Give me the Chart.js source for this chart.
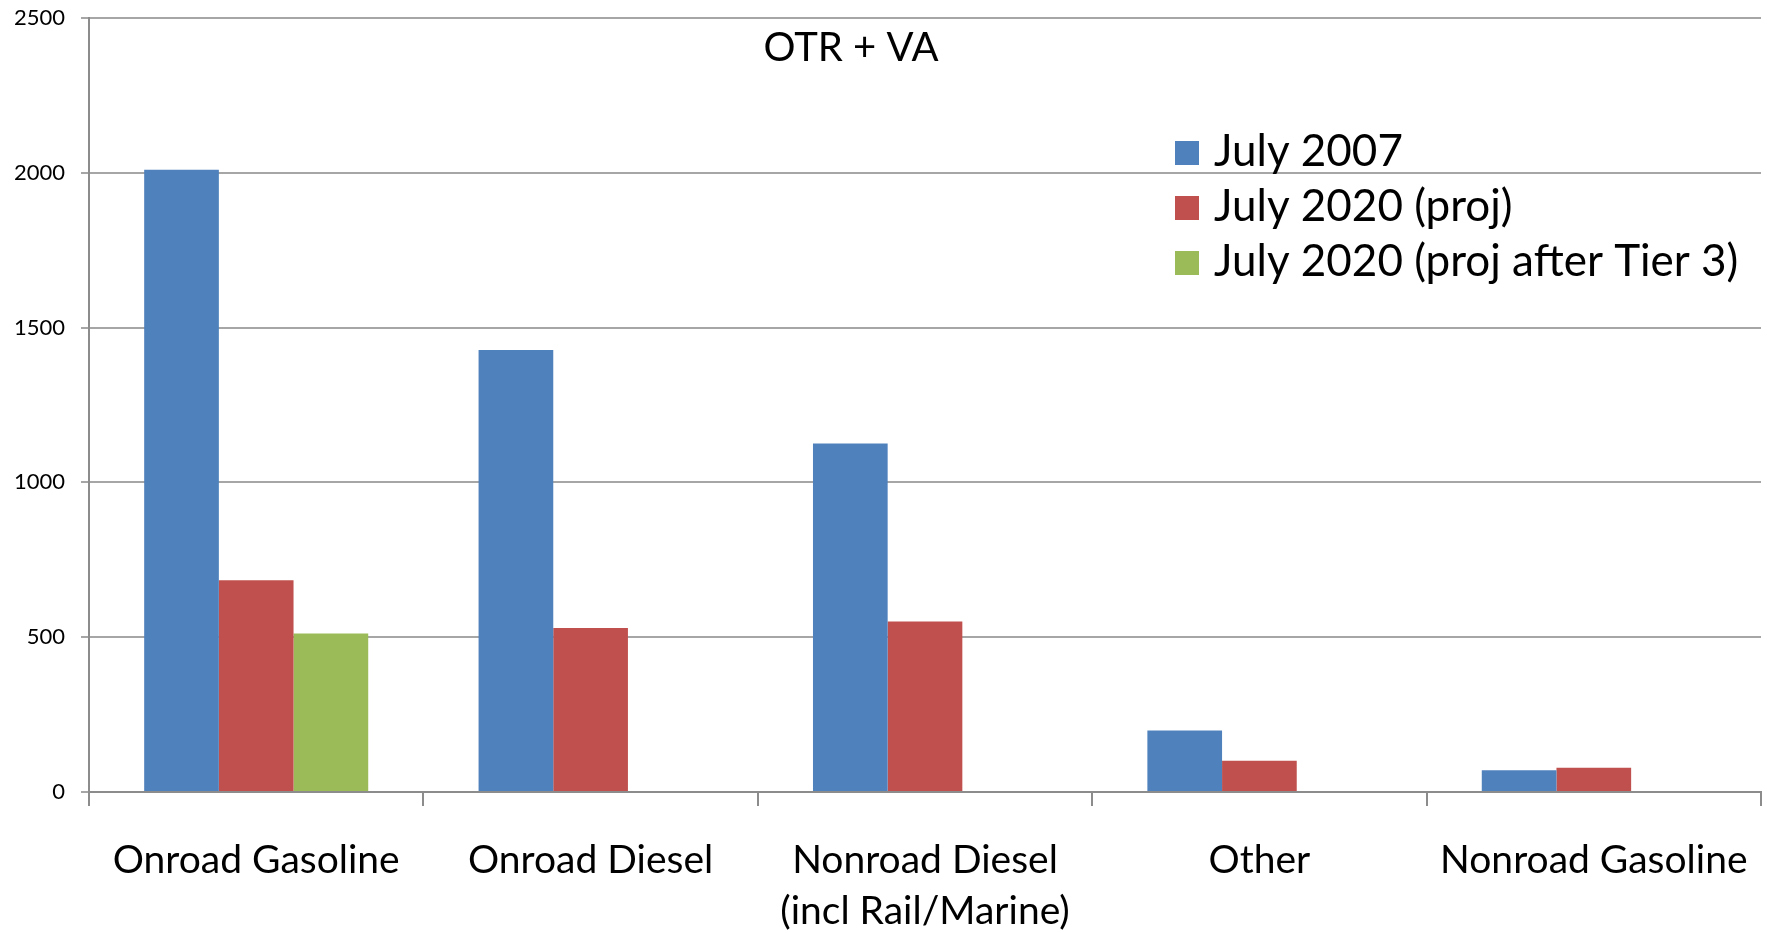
<!DOCTYPE html>
<html>
<head>
<meta charset="utf-8">
<script src="https://cdn.jsdelivr.net/npm/chart.js@4.4.1/dist/chart.umd.min.js"></script>
<style>
  html, body { margin: 0; padding: 0; background: #fff; }
  #wrap { width: 1767px; height: 933px; position: relative; }
</style>
</head>
<body>
<div id="wrap"><canvas id="emissionsChart"></canvas></div>
<script>
// Chart data
const categories = ['Onroad Gasoline', 'Onroad Diesel', ['Nonroad Diesel', '(incl Rail/Marine)'], 'Other', 'Nonroad Gasoline'];
const july2007 = [2010, 1428, 1126, 199, 70];
const july2020 = [684, 530, 551, 101, 78];
const july2020Tier3 = [512, null, null, null, null];
const seriesNames = ['July 2007', 'July 2020 (proj)', 'July 2020 (proj after Tier 3)'];
const seriesColors = ['#4F81BD', '#C0504D', '#9BBB59'];
const chartTitle = 'OTR + VA';

const FONT = 'Lato, "Open Sans", sans-serif';

// Title and legend sit inside the plot area
const insidePlugin = {
    id: 'inside',
    afterDraw(chart) {
        const ctx = chart.ctx;
        const area = chart.chartArea;
        ctx.save();
        ctx.fillStyle = '#000';
        ctx.font = '40px ' + FONT;
        ctx.textBaseline = 'middle';
        ctx.textAlign = 'center';
        ctx.fillText(chartTitle, area.left + 762, area.top + 30);

        ctx.font = '44px ' + FONT;
        ctx.textAlign = 'left';
        chart.data.datasets.forEach((ds, i) => {
            const y = area.top + 134 + i * 55;
            ctx.fillStyle = ds.backgroundColor;
            ctx.fillRect(area.left + 1086, y - 11, 24, 24);
            ctx.fillStyle = '#000';
            ctx.fillText(ds.label, area.left + 1125, y);
        });
        ctx.restore();
    }
};

const ctx = document.getElementById('emissionsChart').getContext('2d');
new Chart(ctx, {
    type: 'bar',
    data: {
        labels: categories,
        datasets: [
            { label: seriesNames[0], data: july2007, backgroundColor: seriesColors[0] },
            { label: seriesNames[1], data: july2020, backgroundColor: seriesColors[1] },
            { label: seriesNames[2], data: july2020Tier3, backgroundColor: seriesColors[2] }
        ]
    },
    options: {
        responsive: true,
        maintainAspectRatio: false,
        animation: false,
        categoryPercentage: 0.67,
        barPercentage: 1.0,
        layout: { padding: { top: 18, right: 6, left: 0, bottom: 0 } },
        plugins: {
            legend: { display: false },
            title: { display: false },
            tooltip: { enabled: false }
        },
        scales: {
            x: {
                offset: true,
                grid: {
                    display: true,
                    drawOnChartArea: false,
                    drawTicks: true,
                    tickLength: 14,
                    color: '#8c8c8c',
                    lineWidth: 2
                },
                border: { color: '#8c8c8c', width: 2 },
                ticks: {
                    color: '#000',
                    font: { family: FONT, size: 39, lineHeight: 1.33 },
                    padding: 28,
                    maxRotation: 0,
                    autoSkip: false
                },
                afterFit(scale) {
                    scale.height = 141;
                    scale.paddingLeft = 0;
                    scale.paddingRight = 0;
                    scale.paddingTop = 0;
                    scale.paddingBottom = 0;
                }
            },
            y: {
                min: 0,
                max: 2500,
                ticks: {
                    stepSize: 500,
                    color: '#000',
                    font: { family: FONT, size: 22 },
                    padding: 16,
                    callback: (v) => String(v)
                },
                grid: {
                    color: '#a6a6a6',
                    lineWidth: 2,
                    tickLength: 8
                },
                border: { color: '#8c8c8c', width: 2 },
                afterFit(scale) {
                    scale.width = 89;
                    scale.paddingTop = 0;
                    scale.paddingBottom = 0;
                    scale.paddingLeft = 0;
                    scale.paddingRight = 0;
                }
            }
        }
    },
    plugins: [insidePlugin]
});
</script>
</body>
</html>
